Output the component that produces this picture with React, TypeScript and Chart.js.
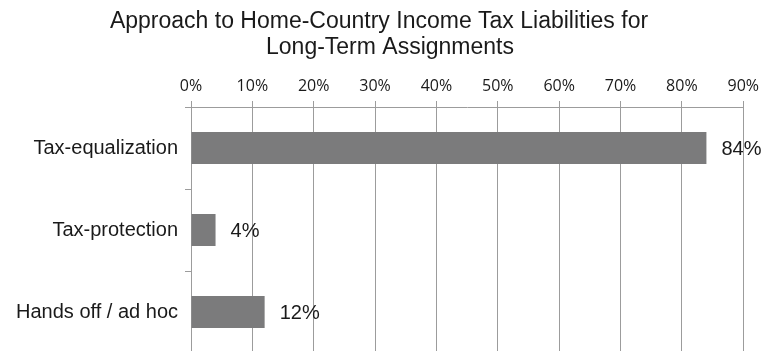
import React, { useEffect, useRef } from "react";
import { Chart, registerables } from "chart.js";

Chart.register(...registerables);

const titleLines = ["Approach to Home-Country Income Tax Liabilities for", "Long-Term Assignments"];
const categories = ["Tax-equalization", "Tax-protection", "Hands off / ad hoc"];
const values = [84, 4, 12];
const tickMin = 0;
const tickMax = 90;
const tickStep = 10;

const GRID = "#9c9c9c";

const titlePlugin = {
  id: "customTitle",
  afterDraw(chart: any) {
    const ctx = chart.ctx;
    ctx.save();
    ctx.fillStyle = "#1a1a1a";
    ctx.font = "23px 'Liberation Sans', Arial, sans-serif";
    ctx.textAlign = "center";
    ctx.textBaseline = "alphabetic";
    ctx.fillText(titleLines[0], 379, 28);
    ctx.fillText(titleLines[1], 390, 54);
    ctx.restore();
  },
};

const labelPlugin = {
  id: "barLabels",
  afterDatasetsDraw(chart: any) {
    const ctx = chart.ctx;
    const meta = chart.getDatasetMeta(0);
    ctx.save();
    ctx.fillStyle = "#1a1a1a";
    ctx.font = "20px 'Liberation Sans', Arial, sans-serif";
    ctx.textAlign = "left";
    ctx.textBaseline = "middle";
    meta.data.forEach((bar: any, i: number) => {
      ctx.fillText(values[i] + "%", bar.x + 15, bar.y + 1);
    });
    ctx.restore();
  },
};

export default function App() {
  const ref = useRef<HTMLCanvasElement>(null);
  useEffect(() => {
    if (!ref.current) return;
    const chart = new Chart(ref.current, {
      type: "bar",
      data: {
        labels: categories,
        datasets: [
          {
            data: values,
            backgroundColor: "#7b7b7c",
            borderWidth: 0,
            categoryPercentage: 1,
            barPercentage: 0.39,
          },
        ],
      },
      options: {
        indexAxis: "y",
        responsive: false,
        animation: false,
        layout: { padding: { top: 75, right: 20, bottom: 8, left: 0 } },
        plugins: {
          legend: { display: false },
          title: { display: false },
          tooltip: { enabled: false },
        },
        scales: {
          x: {
            position: "top",
            min: tickMin,
            max: tickMax,
            afterFit(scale: any) {
              scale.height = 32;
            },
            ticks: {
              stepSize: tickStep,
              callback: (v: any) => v + "%",
              font: { family: "'Open Sans', sans-serif", size: 16 },
              color: "#1a1a1a",
              padding: 5,
              maxRotation: 0,
            },
            grid: {
              color: GRID,
              lineWidth: 1,
              tickLength: 6,
              drawTicks: true,
            },
            border: { display: true, color: GRID, width: 1 },
          },
          y: {
            afterFit(scale: any) {
              scale.width = 191;
            },
            ticks: {
              font: { family: "'Liberation Sans', Arial, sans-serif", size: 20 },
              color: "#1a1a1a",
              padding: 7,
            },
            grid: {
              offset: true,
              drawOnChartArea: false,
              color: GRID,
              tickLength: 6,
            },
            border: { display: true, color: GRID, width: 1 },
          },
        },
      },
      plugins: [titlePlugin, labelPlugin],
    } as any);
    return () => chart.destroy();
  }, []);
  return (
    <div style={{ position: "fixed", left: 0, top: 0, width: 764, height: 351, overflow: "hidden", background: "#fff" }}>
      <canvas ref={ref} width={764} height={372} style={{ display: "block" }} />
    </div>
  );
}
